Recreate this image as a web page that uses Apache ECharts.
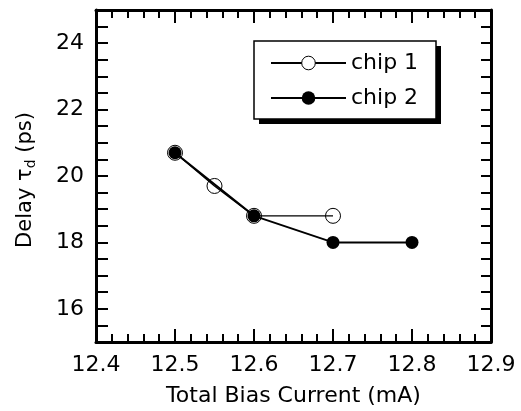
<!DOCTYPE html>
<html>
<head>
<meta charset="utf-8">
<script src="https://cdn.jsdelivr.net/npm/echarts@6/dist/echarts.min.js"></script>
<style>html,body{margin:0;padding:0;background:#fff;}#c{width:521px;height:411px;}</style>
</head>
<body>
<div id="c"></div>
<script>
const chip1X = [12.5, 12.55, 12.6, 12.7];
const chip1Y = [20.7, 19.7, 18.8, 18.8];
const chip2X = [12.5, 12.6, 12.7, 12.8];
const chip2Y = [20.7, 18.8, 18.0, 18.0];
const seriesNames = ['chip 1', 'chip 2'];
const yTickLabels = [16, 18, 20, 22, 24];
const xTickLabels = ['12.4', '12.5', '12.6', '12.7', '12.8', '12.9'];

const FONT = 'DejaVu Sans';
const chart = echarts.init(document.getElementById('c'), null, {renderer: 'canvas'});

const xBase = {
  type: 'value', min: 12.4, max: 12.9, interval: 0.1,
  axisLine: {show: true, onZero: false, lineStyle: {color: '#000', width: 3}},
  axisTick: {show: true, inside: true, length: 13, lineStyle: {color: '#000', width: 2}},
  minorTick: {show: true, splitNumber: 5, length: 8, lineStyle: {color: '#000', width: 2}},
  splitLine: {show: false}, minorSplitLine: {show: false}
};
const yBase = {
  type: 'value', min: 15, max: 25, interval: 0.5,
  axisLine: {show: true, onZero: false, lineStyle: {color: '#000', width: 3}},
  axisTick: {show: true, inside: true, length: 12, lineStyle: {color: '#000', width: 2}},
  splitLine: {show: false}
};

chart.setOption({
  animation: false,
  backgroundColor: '#fff',
  grid: {left: 96, right: 30, top: 10, bottom: 69, containLabel: false, outerBoundsMode: 'none'},
  graphic: [
    {type: 'rect', z: 50, shape: {x: 259, y: 46, width: 182, height: 78}, style: {fill: '#000'}},
    {type: 'rect', z: 51, shape: {x: 254, y: 41, width: 182, height: 78}, style: {fill: '#fff', stroke: '#000', lineWidth: 1.5}}
  ],
  legend: {
    orient: 'vertical', left: 255, top: 41, z: 60,
    padding: [10, 15, 8, 15],
    itemGap: 11, itemWidth: 75, itemHeight: 17,
    textStyle: {fontFamily: FONT, fontSize: 22, color: '#000', lineHeight: 24},
    data: [
      {name: seriesNames[0], itemStyle: {color: '#fff', borderColor: '#000', borderWidth: 1}},
      {name: seriesNames[1]}
    ]
  },
  xAxis: [
    Object.assign({}, xBase, {
      position: 'bottom',
      axisLabel: {show: true, margin: 12, fontFamily: FONT, fontSize: 22, color: '#000',
        formatter: v => { const s = v.toFixed(1); return xTickLabels.indexOf(s) >= 0 ? s : ''; }},
      name: 'Total Bias Current (mA)', nameLocation: 'middle', nameGap: 43,
      nameTextStyle: {fontFamily: FONT, fontSize: 22, color: '#000'}
    }),
    Object.assign({}, xBase, {position: 'top', axisLabel: {show: false}})
  ],
  yAxis: [
    Object.assign({}, yBase, {
      position: 'left',
      axisLabel: {show: true, interval: 0, margin: 12, fontFamily: FONT, fontSize: 22, color: '#000',
        formatter: v => yTickLabels.indexOf(v) >= 0 ? String(v) : ''},
      name: 'Delay τ{sub|d} (ps)', nameLocation: 'middle', nameGap: 58,
      nameTextStyle: {fontFamily: FONT, fontSize: 21, color: '#000', padding: [0, 8, 0, 0],
        rich: {sub: {fontFamily: FONT, fontSize: 14, color: '#000', padding: [11, 0, 0, 0]}}}
    }),
    Object.assign({}, yBase, {position: 'right', axisTick: {show: true, inside: true, length: 10, lineStyle: {color: '#000', width: 2}}, axisLabel: {show: false}})
  ],
  series: [
    {
      name: seriesNames[0], type: 'line', xAxisIndex: 0, yAxisIndex: 0,
      data: chip1X.map((x, i) => [x, chip1Y[i]]),
      symbol: 'circle', symbolSize: 15, z: 3,
      lineStyle: {color: '#000', width: 1.4},
      itemStyle: {color: 'rgba(255,255,255,0)', borderColor: '#000', borderWidth: 1}
    },
    {
      name: seriesNames[1], type: 'line', xAxisIndex: 0, yAxisIndex: 0,
      data: chip2X.map((x, i) => [x, chip2Y[i]]),
      symbol: 'circle', symbolSize: 13, z: 2,
      lineStyle: {color: '#000', width: 2},
      itemStyle: {color: '#000', borderColor: '#000', borderWidth: 0}
    }
  ]
});
</script>
</body>
</html>
